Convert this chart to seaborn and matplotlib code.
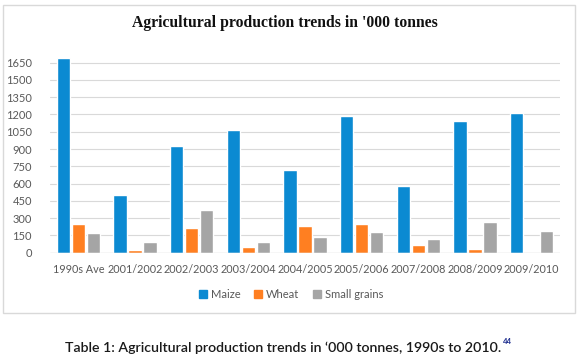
import pandas as pd
import seaborn as sns
import matplotlib.pyplot as plt
from matplotlib.patches import Rectangle

# Values ('000 tonnes)
seasons = ['1990s Ave', '2001/2002', '2002/2003', '2003/2004', '2004/2005',
           '2005/2006', '2007/2008', '2008/2009', '2009/2010']
maize = [1690, 500, 930, 1065, 720, 1185, 575, 1140, 1210]
wheat = [250, 20, 215, 50, 230, 245, 70, 30, 0]
small_grains = [170, 90, 375, 90, 135, 180, 120, 265, 190]
crops = ['Maize', 'Wheat', 'Small grains']
y_ticks = list(range(0, 1651, 150))

df = pd.DataFrame({'season': seasons, 'Maize': maize, 'Wheat': wheat,
                   'Small grains': small_grains})
long_df = df.melt(id_vars='season', value_vars=crops, var_name='crop', value_name='tonnes')

sns.set_theme(style='white')
plt.rcParams['font.family'] = ['Lato', 'DejaVu Sans']

fig = plt.figure(figsize=(5.8, 3.61), dpi=100)
ax = fig.add_axes([50 / 580, 108.3 / 361, 510 / 580, 195.8 / 361])

palette = {'Maize': '#0B8AD2', 'Wheat': '#FF7F21', 'Small grains': '#A5A5A5'}
sns.barplot(data=long_df, x='season', y='tonnes', hue='crop', order=seasons,
            hue_order=crops, palette=palette, width=0.8, gap=0.12,
            saturation=1, ax=ax, zorder=3)

ax.set_ylim(0, 1700)
ax.set_xlim(-0.5, len(seasons) - 0.5)
ax.set_yticks(y_ticks)
ax.yaxis.grid(True, color='#D9D9D9', linewidth=0.8, zorder=0)
ax.set_axisbelow(True)
for side in ['top', 'right', 'left', 'bottom']:
    ax.spines[side].set_visible(False)
ax.axhline(0, color='#D0D0D0', linewidth=0.9, zorder=4)
ax.tick_params(axis='y', length=0, pad=13, labelsize=8, labelcolor='#595959')
ax.tick_params(axis='x', length=0, pad=8, labelsize=7.8, labelcolor='#595959')
ax.set_xlabel('')
ax.set_ylabel('')
ax.legend_.remove()

# legend below the axis
handles = [Rectangle((0, 0), 1, 1, color=palette[c]) for c in crops]
fig.legend(handles, crops, loc='center', bbox_to_anchor=(291 / 580, 1 - 294 / 361),
           ncol=3, frameon=False, fontsize=8, handlelength=0.75, handleheight=0.75,
           handletextpad=0.35, columnspacing=1.2, labelcolor='#595959')

# chart frame
fig.patches.append(Rectangle((3 / 580, 48 / 361), 572 / 580, 308 / 361,
                             transform=fig.transFigure, fill=False,
                             edgecolor='#D9D9D9', linewidth=1))

fig.text(285 / 580, 1 - 22.7 / 361, "Agricultural production trends in '000 tonnes",
         ha='center', va='center', fontsize=11.3, fontweight='bold',
         family=['Liberation Serif', 'DejaVu Serif'], color='#111111')

cap = fig.text(283 / 580, 1 - 348 / 361,
               'Table 1: Agricultural production trends in \u2018000 tonnes, 1990s to 2010.',
               ha='center', va='center', fontsize=10.2, fontweight='semibold',
               color='#1A1A1A')
ax.annotate('44', xy=(1, 0.75), xycoords=cap, xytext=(1, 0), textcoords='offset points',
            fontsize=5.5, fontweight='bold', color='#1F2F8F', va='bottom', ha='left')

fig.savefig('out.png', dpi=100)
